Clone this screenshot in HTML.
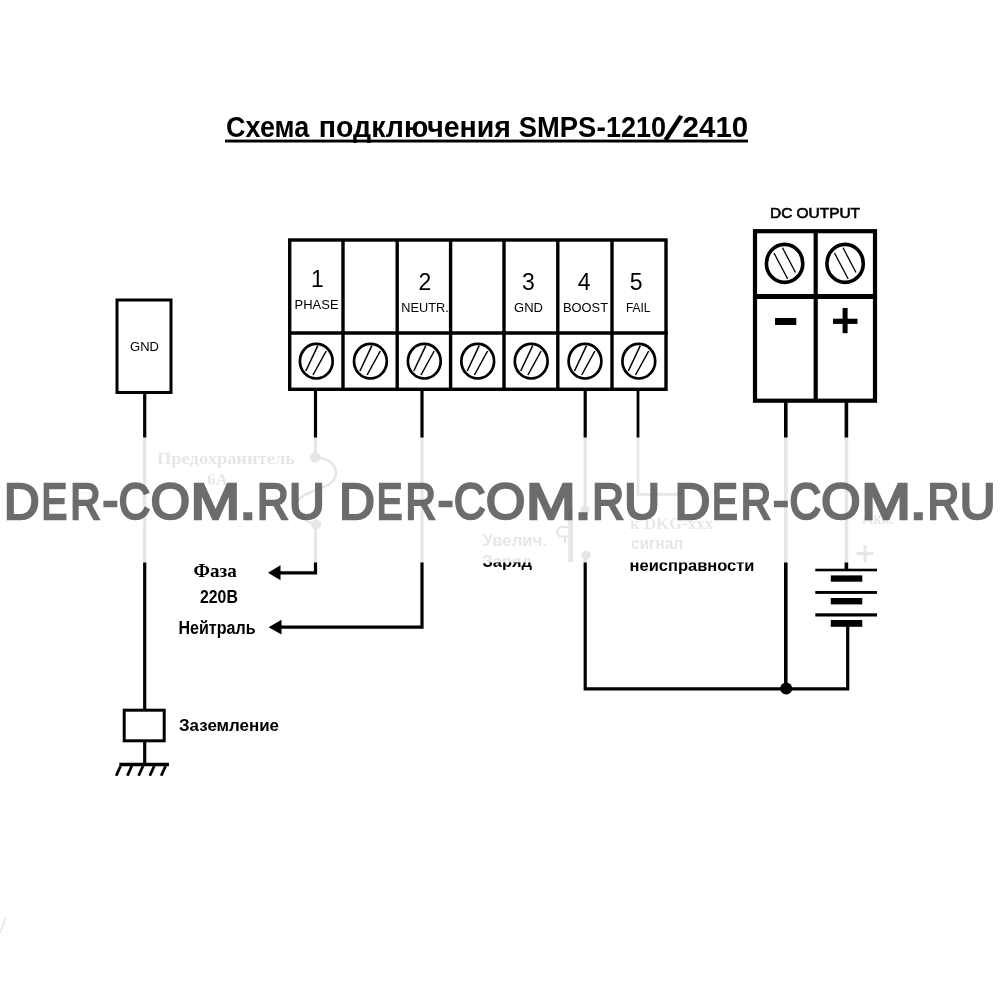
<!DOCTYPE html>
<html lang="ru">
<head>
<meta charset="utf-8">
<title>Схема подключения SMPS-1210/2410</title>
<style>
html,body{margin:0;padding:0;background:#fff;}
body{width:1000px;height:1000px;overflow:hidden;position:relative;}
svg{position:absolute;left:0;top:0;display:block;filter:grayscale(1);}
text{font-family:"Liberation Sans",sans-serif;fill:#000;}
.b{font-weight:bold;}
.wm text{fill:#555;}
.sf text{font-family:"Liberation Serif",serif;font-weight:bold;}
.w{stroke:#000;fill:none;stroke-linecap:butt;stroke-linejoin:miter;}
</style>
</head>
<body>
<svg width="1000" height="1000" viewBox="0 0 1000 1000">
<rect width="1000" height="1000" fill="#fff"/>

<!-- title -->
<g class="b" font-size="29">
<text><tspan x="226.11" y="137.3" textLength="83.12" lengthAdjust="spacingAndGlyphs">Схема</tspan> <tspan x="318.82" y="137.3" textLength="192.16" lengthAdjust="spacingAndGlyphs">подключения</tspan> <tspan x="518.81" y="137.3" textLength="77.45" lengthAdjust="spacingAndGlyphs">SMPS</tspan><tspan x="596.49" y="137.3" textLength="9.44" lengthAdjust="spacingAndGlyphs">-</tspan><tspan x="605.90" y="137.3" textLength="60.22" lengthAdjust="spacingAndGlyphs">1210</tspan><tspan x="663.6" y="138.2" rotate="22" font-size="38">/</tspan><tspan x="682.58" y="137.3" textLength="65.63" lengthAdjust="spacingAndGlyphs">2410</tspan></text>
</g>
<rect x="225" y="139.6" width="523" height="2.9" fill="#000"/>

<!-- GND box -->
<rect class="w" x="117" y="300" width="54" height="92.5" stroke-width="3"/>
<text x="144.5" y="351.2" font-size="13" text-anchor="middle">GND</text>
<line class="w" x1="144.7" y1="392" x2="144.7" y2="709" stroke-width="3.2"/>
<rect class="w" x="124.2" y="710.2" width="40" height="30.6" stroke-width="3"/>
<line class="w" x1="144.7" y1="742" x2="144.7" y2="764" stroke-width="3.2"/>
<line class="w" x1="119.4" y1="764.5" x2="169" y2="764.5" stroke-width="3.4"/>
<g class="w" stroke-width="2.8" stroke-linecap="round">
<line x1="120.6" y1="766" x2="116.2" y2="775.8"/>
<line x1="131.8" y1="766" x2="127.4" y2="775.8"/>
<line x1="143" y1="766" x2="138.6" y2="775.8"/>
<line x1="154.2" y1="766" x2="149.8" y2="775.8"/>
<line x1="165.6" y1="766" x2="161.2" y2="775.8"/>
</g>

<!-- terminal block -->
<g class="w" stroke-width="3.4">
<rect x="289.7" y="240" width="376.3" height="149.3"/>
<line x1="288" y1="333" x2="667.7" y2="333"/>
<line x1="343" y1="240" x2="343" y2="389"/>
<line x1="397.2" y1="240" x2="397.2" y2="389"/>
<line x1="450.6" y1="240" x2="450.6" y2="389"/>
<line x1="504" y1="240" x2="504" y2="389"/>
<line x1="557.8" y1="240" x2="557.8" y2="389"/>
<line x1="612" y1="240" x2="612" y2="389"/>
</g>
<g>
<g transform="translate(316.3,361.2)"><ellipse class="w" rx="16.4" ry="17.3" stroke-width="2.7"/><line class="w" x1="1.5" y1="-15.6" x2="-10.5" y2="9.8" stroke-width="1.5"/><line class="w" x1="9.9" y1="-10.2" x2="-3.3" y2="13.8" stroke-width="1.5"/></g>
<g transform="translate(370.4,361.2)"><ellipse class="w" rx="16.4" ry="17.3" stroke-width="2.7"/><line class="w" x1="1.5" y1="-15.6" x2="-10.5" y2="9.8" stroke-width="1.5"/><line class="w" x1="9.9" y1="-10.2" x2="-3.3" y2="13.8" stroke-width="1.5"/></g>
<g transform="translate(424.3,361.2)"><ellipse class="w" rx="16.4" ry="17.3" stroke-width="2.7"/><line class="w" x1="1.5" y1="-15.6" x2="-10.5" y2="9.8" stroke-width="1.5"/><line class="w" x1="9.9" y1="-10.2" x2="-3.3" y2="13.8" stroke-width="1.5"/></g>
<g transform="translate(477.7,361.2)"><ellipse class="w" rx="16.4" ry="17.3" stroke-width="2.7"/><line class="w" x1="1.5" y1="-15.6" x2="-10.5" y2="9.8" stroke-width="1.5"/><line class="w" x1="9.9" y1="-10.2" x2="-3.3" y2="13.8" stroke-width="1.5"/></g>
<g transform="translate(531.2,361.2)"><ellipse class="w" rx="16.4" ry="17.3" stroke-width="2.7"/><line class="w" x1="1.5" y1="-15.6" x2="-10.5" y2="9.8" stroke-width="1.5"/><line class="w" x1="9.9" y1="-10.2" x2="-3.3" y2="13.8" stroke-width="1.5"/></g>
<g transform="translate(585,361.2)"><ellipse class="w" rx="16.4" ry="17.3" stroke-width="2.7"/><line class="w" x1="1.5" y1="-15.6" x2="-10.5" y2="9.8" stroke-width="1.5"/><line class="w" x1="9.9" y1="-10.2" x2="-3.3" y2="13.8" stroke-width="1.5"/></g>
<g transform="translate(638.8,361.2)"><ellipse class="w" rx="16.4" ry="17.3" stroke-width="2.7"/><line class="w" x1="1.5" y1="-15.6" x2="-10.5" y2="9.8" stroke-width="1.5"/><line class="w" x1="9.9" y1="-10.2" x2="-3.3" y2="13.8" stroke-width="1.5"/></g>
</g>

<!-- DC block -->
<g class="w" stroke-width="4.2">
<rect x="755" y="231.2" width="120" height="169.5"/>
<line x1="753" y1="296.5" x2="877" y2="296.5" stroke-width="5"/>
<line x1="815.7" y1="231" x2="815.7" y2="400"/>
</g>
<text x="815" y="218" font-size="14.6" text-anchor="middle" textLength="90" lengthAdjust="spacingAndGlyphs" stroke="#000" stroke-width="0.6">DC OUTPUT</text>
<rect x="775" y="318" width="21.3" height="7" fill="#000"/>
<rect x="833" y="318.7" width="24.5" height="5.2" fill="#000"/>
<rect x="842.6" y="308" width="5" height="25.2" fill="#000"/>

<!-- terminal labels -->
<g font-size="23" text-anchor="middle">
<text x="317.5" y="287">1</text>
<text x="424.8" y="289.8">2</text>
<text x="528.3" y="290.2">3</text>
<text x="584.2" y="289.8">4</text>
<text x="636.2" y="290">5</text>
</g>
<g font-size="12.8">
<text x="294.6" y="309" textLength="44" lengthAdjust="spacingAndGlyphs">PHASE</text>
<text x="401.2" y="311.8" textLength="47.5" lengthAdjust="spacingAndGlyphs">NEUTR.</text>
<text x="514" y="312.4" textLength="29" lengthAdjust="spacingAndGlyphs">GND</text>
<text x="563" y="312.4" textLength="45" lengthAdjust="spacingAndGlyphs">BOOST</text>
<text x="626" y="312.4" textLength="24.5" lengthAdjust="spacingAndGlyphs">FAIL</text>
</g>

<!-- DC screws -->
<g transform="translate(784.6,263.4)"><ellipse class="w" rx="18.2" ry="19" stroke-width="3.6"/><line class="w" x1="-10.6" y1="-10.4" x2="3.1" y2="15.6" stroke-width="1.3"/><line class="w" x1="-2.1" y1="-15.6" x2="10.9" y2="9.1" stroke-width="1.3"/></g>
<g transform="translate(845.1,263.4)"><ellipse class="w" rx="18.2" ry="19" stroke-width="3.6"/><line class="w" x1="-10.6" y1="-10.4" x2="3.1" y2="15.6" stroke-width="1.3"/><line class="w" x1="-2.1" y1="-15.6" x2="10.9" y2="9.1" stroke-width="1.3"/></g>

<!-- wires -->
<g class="w" stroke-width="3.2">
<polyline points="315.5,390 315.5,572.8 280,572.8"/>
<polyline points="422,390 422,627.2 281,627.2"/>
<polyline points="585.2,390 585.2,688.8 847.7,688.8 847.7,626"/>
<polyline points="638,390 638,494.3 678,494.3" stroke-width="2.8"/>
<line x1="785.8" y1="402" x2="785.8" y2="688.8" stroke-width="3.6"/>
<line x1="846.4" y1="402" x2="846.4" y2="570" stroke-width="3.6"/>
</g>
<polygon points="268,572.8 280.5,565.3 280.5,580.3" fill="#000"/>
<polygon points="268.6,627.2 281.5,619.8 281.5,634.6" fill="#000"/>
<polygon points="684.5,494.3 677.5,489 677.5,499.6" fill="#000"/>
<circle cx="786.2" cy="688.6" r="6" fill="#000"/>

<!-- fuse -->
<rect x="312" y="457" width="7" height="68" fill="#fff"/>
<circle cx="315.2" cy="457.3" r="5.2" fill="#000"/>
<circle cx="316.2" cy="524.5" r="5" fill="#000"/>
<path class="w" stroke-width="2.6" d="M315.2,457.3 C328,458 336,464 335.8,473 C335.5,483 325,487 315,490.5 C303,495 296,499 296,505 C296,513 305,522 316.2,524.5"/>

<!-- push button -->
<rect x="581" y="510" width="9" height="45" fill="#fff"/>
<circle cx="585" cy="510" r="4.6" fill="#000"/>
<circle cx="586" cy="555" r="4.6" fill="#000"/>
<rect x="568.2" y="507" width="4.8" height="55" fill="#000"/>
<path class="w" stroke-width="2.2" d="M568,527 L562,527 C555.5,527 555.5,536.5 562,536.5 L568,536.5 M565,536.5 L565,543"/>

<!-- battery -->
<g fill="#000">
<rect x="815.3" y="568.7" width="61.7" height="2.6"/>
<rect x="830.8" y="575.4" width="31.5" height="6.3"/>
<rect x="815.3" y="591" width="61.7" height="2.9"/>
<rect x="830.8" y="598" width="31.5" height="6.4"/>
<rect x="815.3" y="613.3" width="61.7" height="3.2"/>
<rect x="830.8" y="620" width="31.5" height="6.8"/>
<rect x="856.6" y="552" width="16.8" height="3"/>
<rect x="863.5" y="545" width="3" height="17"/>
</g>

<!-- captions -->
<g class="sf">
<text x="157" y="464" font-size="17" textLength="138" lengthAdjust="spacingAndGlyphs">Предохранитель</text>
<text x="207" y="485" font-size="17" textLength="21" lengthAdjust="spacingAndGlyphs">6А</text>
<text x="193.6" y="576.8" font-size="19" textLength="43.2" lengthAdjust="spacingAndGlyphs">Фаза</text>
<text x="630" y="529" font-size="16.5" textLength="83" lengthAdjust="spacingAndGlyphs">к DKG-xxx</text>
</g>
<g class="b">
<text x="200" y="603.1" font-size="17.6" textLength="37.8" lengthAdjust="spacingAndGlyphs">220В</text>
<text x="178.5" y="633.7" font-size="17.6" textLength="77" lengthAdjust="spacingAndGlyphs">Нейтраль</text>
<text x="179" y="731" font-size="16.8" textLength="100" lengthAdjust="spacingAndGlyphs">Заземление</text>
<text x="482.5" y="546" font-size="17" textLength="64.5" lengthAdjust="spacingAndGlyphs">Увелич.</text>
<text x="482.5" y="567" font-size="17" textLength="49.5" lengthAdjust="spacingAndGlyphs">Заряд</text>
<text x="631" y="549.3" font-size="16.2" textLength="52" lengthAdjust="spacingAndGlyphs">сигнал</text>
<text x="629.5" y="571.4" font-size="16.2" textLength="125" lengthAdjust="spacingAndGlyphs">неисправности</text>
<text x="862" y="523.5" font-size="17" textLength="31.4" lengthAdjust="spacingAndGlyphs">Акк.</text>
</g>

<!-- faint scan mark -->
<line x1="5.6" y1="918" x2="0.4" y2="932.5" stroke="#e2e2e2" stroke-width="1.4"/>

<!-- watermark band -->
<rect x="0" y="437.5" width="1000" height="125" fill="#fff" fill-opacity="0.9"/>
<g class="wm" font-size="50.87" opacity="0.86" stroke="#555" stroke-width="2.6" stroke-linejoin="miter">
<text><tspan x="4.03" y="518.70" textLength="35.47" lengthAdjust="spacingAndGlyphs">D</tspan><tspan x="41.43" y="518.70" textLength="25.64" lengthAdjust="spacingAndGlyphs">E</tspan><tspan x="70.23" y="518.70" textLength="30.35" lengthAdjust="spacingAndGlyphs">R</tspan><tspan x="102.51" y="516.50" textLength="15.68" lengthAdjust="spacingAndGlyphs">-</tspan><tspan x="118.80" y="518.70" textLength="31.44" lengthAdjust="spacingAndGlyphs">C</tspan><tspan x="150.70" y="518.70" textLength="39.22" lengthAdjust="spacingAndGlyphs">O</tspan><tspan x="190.63" y="518.70" textLength="49.75" lengthAdjust="spacingAndGlyphs">M</tspan><tspan x="239.26" y="518.70" textLength="17.09" lengthAdjust="spacingAndGlyphs">.</tspan><tspan x="256.91" y="518.70" textLength="31.80" lengthAdjust="spacingAndGlyphs">R</tspan><tspan x="289.05" y="518.70" textLength="35.70" lengthAdjust="spacingAndGlyphs">U</tspan></text>
<text><tspan x="339.33" y="518.70" textLength="35.47" lengthAdjust="spacingAndGlyphs">D</tspan><tspan x="376.73" y="518.70" textLength="25.64" lengthAdjust="spacingAndGlyphs">E</tspan><tspan x="405.53" y="518.70" textLength="30.35" lengthAdjust="spacingAndGlyphs">R</tspan><tspan x="437.81" y="516.50" textLength="15.68" lengthAdjust="spacingAndGlyphs">-</tspan><tspan x="454.10" y="518.70" textLength="31.44" lengthAdjust="spacingAndGlyphs">C</tspan><tspan x="486.00" y="518.70" textLength="39.22" lengthAdjust="spacingAndGlyphs">O</tspan><tspan x="525.93" y="518.70" textLength="49.75" lengthAdjust="spacingAndGlyphs">M</tspan><tspan x="574.56" y="518.70" textLength="17.09" lengthAdjust="spacingAndGlyphs">.</tspan><tspan x="592.21" y="518.70" textLength="31.80" lengthAdjust="spacingAndGlyphs">R</tspan><tspan x="624.35" y="518.70" textLength="35.70" lengthAdjust="spacingAndGlyphs">U</tspan></text>
<text><tspan x="674.63" y="518.70" textLength="35.47" lengthAdjust="spacingAndGlyphs">D</tspan><tspan x="712.03" y="518.70" textLength="25.64" lengthAdjust="spacingAndGlyphs">E</tspan><tspan x="740.83" y="518.70" textLength="30.35" lengthAdjust="spacingAndGlyphs">R</tspan><tspan x="773.11" y="516.50" textLength="15.68" lengthAdjust="spacingAndGlyphs">-</tspan><tspan x="789.40" y="518.70" textLength="31.44" lengthAdjust="spacingAndGlyphs">C</tspan><tspan x="821.30" y="518.70" textLength="39.22" lengthAdjust="spacingAndGlyphs">O</tspan><tspan x="861.23" y="518.70" textLength="49.75" lengthAdjust="spacingAndGlyphs">M</tspan><tspan x="909.86" y="518.70" textLength="17.09" lengthAdjust="spacingAndGlyphs">.</tspan><tspan x="927.51" y="518.70" textLength="31.80" lengthAdjust="spacingAndGlyphs">R</tspan><tspan x="959.65" y="518.70" textLength="35.70" lengthAdjust="spacingAndGlyphs">U</tspan></text>
</g>

</svg>
</body>
</html>
